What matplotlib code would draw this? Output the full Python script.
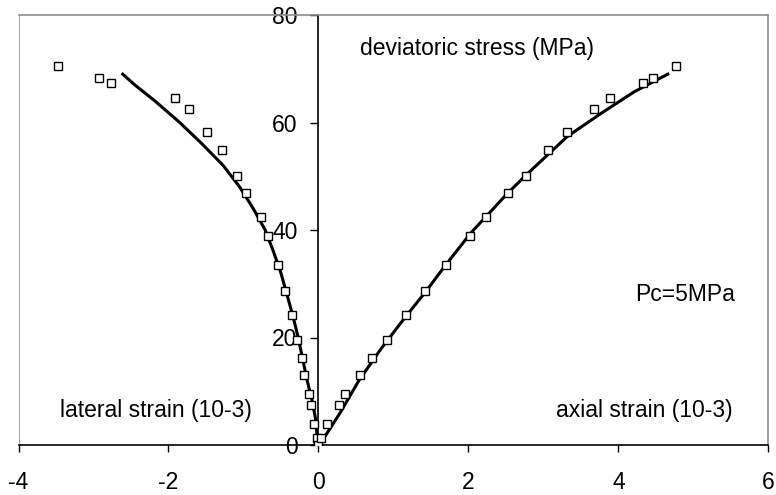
import numpy as np
import matplotlib
matplotlib.use('Agg')
import matplotlib.pyplot as plt

plt.rcParams['font.family'] = ['Liberation Sans', 'DejaVu Sans']

### Donnees (deformations en 10-3, contrainte en MPa)
stress_pts = [0.0, 1.3, 3.9, 7.4, 9.4, 13.0, 16.2, 19.5, 24.2, 28.7, 33.5, 38.9,
              42.4, 46.8, 50.1, 54.9, 58.2, 62.6, 64.6, 67.3, 68.2, 70.6]
axial_pts = [0.0, 0.03, 0.12, 0.27, 0.35, 0.55, 0.72, 0.92, 1.17, 1.42, 1.70, 2.02,
             2.24, 2.53, 2.77, 3.06, 3.32, 3.68, 3.89, 4.33, 4.46, 4.77]
lateral_pts = [0.0, -0.02, -0.06, -0.10, -0.12, -0.19, -0.22, -0.28, -0.35, -0.44, -0.54, -0.67,
               -0.77, -0.97, -1.08, -1.29, -1.48, -1.72, -1.91, -2.76, -2.93, -3.47]

# courbes du modele
lat_model_y = [0, 2, 5, 8, 12, 16, 20, 24, 28, 32, 36, 40, 44, 48, 52, 56, 60, 64, 67, 69]
lat_model_x = [0, -0.02, -0.04, -0.08, -0.15, -0.21, -0.27, -0.34, -0.42, -0.50, -0.60, -0.71,
               -0.87, -1.05, -1.27, -1.55, -1.85, -2.18, -2.45, -2.61]
ax_model_y = [0, 1, 6, 12, 18, 24, 28.5, 33, 39.4, 46.8, 50.5, 57.4, 61.7, 65.7, 69]
ax_model_x = [0, 0.06, 0.29, 0.54, 0.84, 1.17, 1.43, 1.67, 2.03, 2.52, 2.79, 3.32, 3.77, 4.21, 4.66]

x_ticks = [-4, -2, 0, 2, 4, 6]
y_ticks = [0, 20, 40, 60, 80]

fig = plt.figure(figsize=(7.76, 4.95), dpi=100)
ax = fig.add_axes([18.5/776, 50/495, 749.8/776, 430/495])

ax.plot(lat_model_x, lat_model_y, color='black', lw=2.2, zorder=3)
ax.plot(ax_model_x, ax_model_y, color='black', lw=2.2, zorder=3)
ax.plot(lateral_pts, stress_pts, ls='none', marker='s', ms=5.5, mfc='white', mec='black', mew=1, zorder=4)
ax.plot(axial_pts, stress_pts, ls='none', marker='s', ms=5.5, mfc='white', mec='black', mew=1, zorder=4)

ax.set_xlim(-4, 6)
ax.set_ylim(0, 80)
ax.set_xticks(x_ticks)
ax.set_yticks(y_ticks)
ax.set_xticklabels([str(t) for t in x_ticks])
ax.set_yticklabels([str(t) for t in y_ticks])

# axes croises en (0,0), cadre gris
ax.spines['left'].set_position(('data', 0))
ax.spines['left'].set_color('black')
ax.spines['bottom'].set_color('black')
ax.spines['top'].set_color('#8c8c8c')
ax.spines['right'].set_color('#8c8c8c')
ax.axvline(-4, color='#8c8c8c', lw=1.2, zorder=1)
for s in ax.spines.values():
    s.set_linewidth(1.2)

ax.tick_params(axis='y', direction='out', length=6, width=1, pad=9, labelsize=16.5)
ax.tick_params(axis='x', direction='out', length=5, width=1, pad=14, labelsize=16.5)

ax.text(0.556, 72.6, 'deviatoric stress (MPa)', fontsize=16.5, va='baseline', ha='left')
ax.text(-3.44, 5.3, 'lateral strain (10-3)', fontsize=16.5, va='baseline', ha='left')
ax.text(5.52, 5.3, 'axial strain (10-3)', fontsize=16.5, va='baseline', ha='right')
ax.text(5.55, 26.7, 'Pc=5MPa', fontsize=16.5, va='baseline', ha='right')

fig.savefig('out.png', dpi=100)
